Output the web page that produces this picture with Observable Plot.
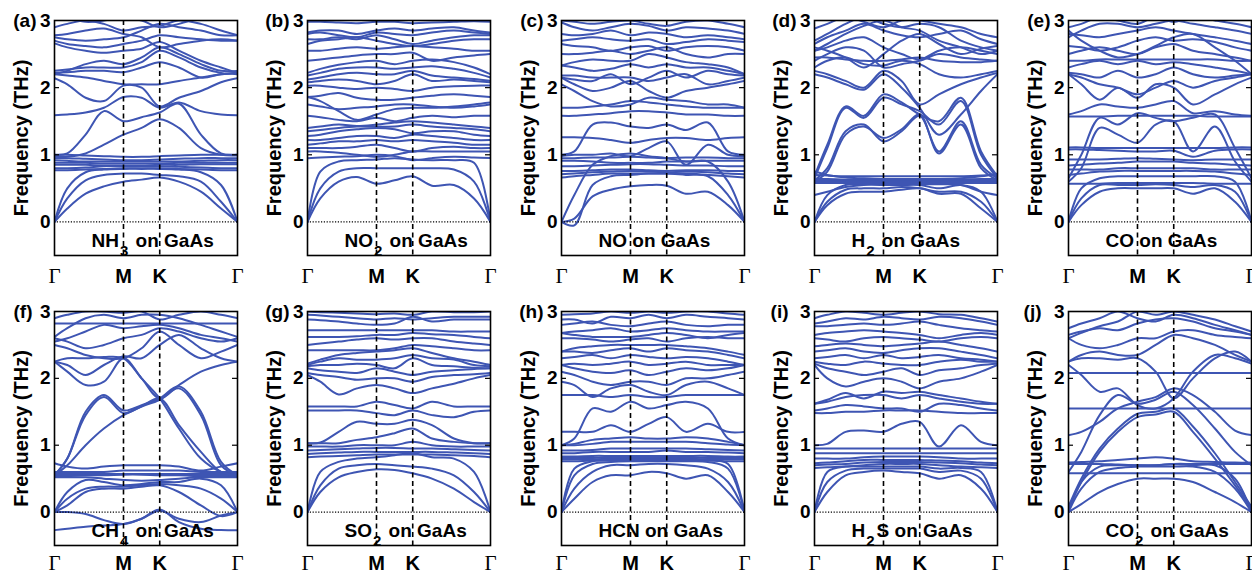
<!DOCTYPE html>
<html><head><meta charset="utf-8">
<script src="https://cdn.jsdelivr.net/npm/d3@7"></script>
<script src="https://cdn.jsdelivr.net/npm/@observablehq/plot@0.6"></script>
<style>
html,body{margin:0;padding:0;background:#fff;}
#wrap{position:relative;width:1252px;height:575px;overflow:hidden;background:#fff;}
</style></head><body><div id="wrap"></div>
<script>
// sample positions along the Γ–M–K–Γ path (fraction of total path)
const kpos = [0, 0.07, 0.17, 0.27, 0.377, 0.476, 0.575, 0.68, 0.8, 0.91, 1];
const symTicks = [0, 0.377, 0.575, 1];
const symLabels = ["Γ", "M", "K", "Γ"];
const freqTicks = [0, 1, 2, 3];
const panelLetters = ["(a)", "(b)", "(c)", "(d)", "(e)", "(f)", "(g)", "(h)", "(i)", "(j)"];
const gasLabels = ["NH3 on GaAs", "NO2 on GaAs", "NO on GaAs", "H2 on GaAs", "CO on GaAs",
                   "CH4 on GaAs", "SO2 on GaAs", "HCN on GaAs", "H2S on GaAs", "CO2 on GaAs"];

const nh3Bands = [
[0,0.2,0.42,0.53,0.6,0.63,0.66,0.6,0.45,0.2,0],
[0,0.35,0.62,0.7,0.72,0.72,0.7,0.68,0.6,0.3,0],
[0,0.5,0.74,0.78,0.79,0.79,0.79,0.78,0.74,0.55,0],
[1.0,1.0,0.99,0.98,0.97,0.97,0.98,0.99,1.0,1.0,1.0],
[0.95,0.95,0.94,0.93,0.92,0.92,0.93,0.94,0.95,0.95,0.95],
[0.92,0.91,0.9,0.9,0.9,0.9,0.9,0.9,0.91,0.92,0.92],
[0.88,0.88,0.88,0.87,0.87,0.87,0.87,0.88,0.88,0.88,0.88],
[0.85,0.85,0.85,0.84,0.84,0.84,0.85,0.85,0.86,0.86,0.86],
[0.8,0.8,0.81,0.83,0.83,0.83,0.83,0.82,0.81,0.8,0.8],
[0.77,0.77,0.78,0.79,0.8,0.8,0.8,0.79,0.78,0.77,0.77],
[0.97,0.97,1.02,1.15,1.3,1.4,1.53,1.4,1.1,1.0,0.99],
[1.0,1.02,1.3,1.65,1.5,1.56,1.63,1.76,1.3,1.02,1.0],
[1.59,1.6,1.63,1.7,1.86,1.85,1.7,1.78,1.65,1.6,1.59],
[2.14,2.05,1.85,1.8,2.03,2.0,1.72,1.85,1.95,2.08,2.14],
[2.2,2.18,2.15,2.1,2.05,2.05,2.05,2.1,2.15,2.2,2.22],
[2.22,2.23,2.25,2.25,2.23,2.3,2.38,2.3,2.15,2.2,2.22],
[2.25,2.27,2.3,2.3,2.3,2.38,2.55,2.45,2.3,2.22,2.2],
[2.2,2.25,2.35,2.4,2.35,2.45,2.6,2.5,2.35,2.25,2.25],
[2.66,2.6,2.55,2.52,2.55,2.58,2.68,2.55,2.4,2.3,2.22],
[2.7,2.65,2.62,2.6,2.65,2.7,2.78,2.75,2.72,2.7,2.7],
[2.78,2.8,2.85,2.88,2.8,2.75,2.6,2.65,2.7,2.72,2.7],
[2.75,2.72,2.7,2.72,2.75,2.85,2.95,2.9,2.85,2.78,2.78],
[2.9,2.95,3.0,2.95,2.85,2.9,2.92,3.0,2.95,2.85,2.78],
[3.1,3.05,2.98,3.0,3.05,3.0,2.9,2.95,3.05,3.1,3.1]
];

const no2Bands = [
[0,0.35,0.6,0.67,0.57,0.62,0.68,0.54,0.55,0.35,0],
[0,0.5,0.75,0.8,0.8,0.8,0.8,0.8,0.78,0.6,0],
[0,0.75,0.9,0.92,0.93,0.95,0.93,0.92,0.92,0.88,0],
[0.95,0.96,0.97,0.98,1.0,0.98,0.92,0.95,0.97,0.96,0.95],
[1.05,1.05,1.03,1.0,0.97,1.0,1.05,1.05,1.05,1.05,1.05],
[1.1,1.1,1.1,1.12,1.15,1.1,1.05,1.1,1.12,1.1,1.1],
[1.15,1.17,1.2,1.2,1.22,1.2,1.22,1.2,1.18,1.15,1.15],
[1.22,1.22,1.25,1.28,1.28,1.25,1.3,1.28,1.25,1.22,1.22],
[1.28,1.3,1.35,1.38,1.4,1.38,1.32,1.35,1.35,1.3,1.28],
[1.35,1.37,1.4,1.42,1.42,1.42,1.45,1.42,1.4,1.38,1.35],
[1.4,1.42,1.45,1.43,1.45,1.48,1.5,1.48,1.45,1.42,1.4],
[1.58,1.56,1.52,1.5,1.55,1.5,1.55,1.58,1.56,1.58,1.58],
[1.86,1.8,1.65,1.52,1.6,1.68,1.7,1.7,1.72,1.75,1.78],
[1.75,1.72,1.68,1.7,1.72,1.75,1.75,1.72,1.7,1.72,1.75],
[1.86,1.88,1.92,1.85,1.82,1.82,1.85,1.88,1.9,1.88,1.86],
[2.03,2.03,2.0,1.98,2.0,1.98,1.95,2.0,2.02,2.03,2.03],
[2.08,2.1,2.12,2.1,2.05,2.1,2.2,2.1,2.12,2.1,2.08],
[2.12,2.15,2.2,2.22,2.2,2.2,2.25,2.18,2.15,2.13,2.1],
[2.18,2.22,2.28,2.3,2.3,2.28,2.3,2.32,2.28,2.22,2.15],
[2.22,2.28,2.34,2.38,2.4,2.35,2.4,2.42,2.38,2.3,2.2],
[2.4,2.42,2.45,2.48,2.5,2.5,2.52,2.4,2.45,2.48,2.5],
[2.55,2.55,2.58,2.6,2.58,2.6,2.62,2.6,2.58,2.55,2.55],
[2.65,2.7,2.72,2.75,2.7,2.65,2.62,2.65,2.7,2.72,2.72],
[2.72,2.72,2.75,2.72,2.78,2.72,2.65,2.7,2.75,2.78,2.78],
[2.8,2.82,2.78,2.75,2.82,2.8,2.78,2.82,2.85,2.82,2.8],
[2.82,2.85,2.85,2.8,2.85,2.88,2.85,2.88,2.9,2.85,2.82],
[2.98,2.98,2.97,2.96,2.98,2.98,2.96,2.97,2.98,2.99,2.98]
];

const noBands = [
[0,0.05,0.38,0.48,0.53,0.55,0.54,0.42,0.45,0.25,0],
[0,-0.05,0.55,0.68,0.7,0.72,0.72,0.7,0.68,0.4,0],
[0,0.4,0.85,0.98,1.02,0.98,0.95,0.9,0.9,0.6,0],
[0.66,0.68,0.7,0.72,0.72,0.72,0.72,0.72,0.7,0.68,0.66],
[0.71,0.72,0.74,0.75,0.76,0.75,0.74,0.75,0.74,0.72,0.71],
[0.76,0.76,0.77,0.78,0.78,0.77,0.76,0.77,0.77,0.76,0.76],
[0.83,0.83,0.84,0.85,0.86,0.86,0.85,0.84,0.84,0.83,0.83],
[0.91,0.91,0.9,0.88,0.88,0.88,0.9,0.9,0.91,0.91,0.91],
[0.95,0.95,0.96,0.96,0.97,0.96,0.95,0.96,0.96,0.95,0.95],
[0.98,1.0,1.0,1.02,0.98,1.1,1.2,0.85,1.15,1.0,0.98],
[1.26,1.26,1.25,1.22,1.18,1.22,1.25,1.25,1.22,1.25,1.26],
[1.0,1.05,1.45,1.48,1.42,1.4,1.45,1.37,1.48,1.05,1.0],
[1.58,1.58,1.6,1.62,1.65,1.65,1.63,1.6,1.6,1.58,1.58],
[1.7,1.7,1.72,1.75,1.8,1.78,1.75,1.72,1.7,1.7,1.7],
[2.05,1.95,1.8,1.72,1.75,1.85,1.82,1.8,1.75,1.75,1.7],
[2.15,2.05,1.95,2.0,2.1,1.95,1.85,1.95,2.0,2.05,2.1],
[2.18,2.18,2.15,2.15,2.15,2.1,2.15,2.2,2.05,2.1,2.15],
[2.15,2.12,2.1,2.2,2.05,2.15,2.25,2.15,2.25,2.2,2.18],
[2.33,2.3,2.25,2.28,2.35,2.3,2.35,2.3,2.3,2.25,2.2],
[2.33,2.38,2.42,2.4,2.4,2.5,2.45,2.38,2.35,2.3,2.2],
[2.5,2.5,2.52,2.55,2.5,2.55,2.6,2.5,2.45,2.5,2.5],
[2.65,2.62,2.6,2.55,2.6,2.62,2.55,2.6,2.62,2.6,2.55],
[2.7,2.72,2.75,2.72,2.7,2.72,2.65,2.68,2.72,2.7,2.68],
[2.8,2.78,2.8,2.85,2.78,2.82,2.8,2.75,2.78,2.75,2.72],
[2.97,2.9,2.85,2.9,2.95,2.92,2.85,2.9,2.88,2.85,2.8],
[3.0,2.98,2.95,2.98,3.0,2.95,2.92,2.98,3.0,2.95,2.9]
];

const h2Bands = [
[0,0.3,0.48,0.5,0.5,0.52,0.5,0.45,0.45,0.3,0],
[0,0.25,0.42,0.45,0.45,0.48,0.5,0.42,0.42,0.2,0],
[0,0.4,0.55,0.56,0.55,0.55,0.55,0.5,0.55,0.45,0],
[0.4,0.45,0.52,0.55,0.56,0.56,0.56,0.56,0.55,0.45,0.4],
[0.58,0.58,0.58,0.58,0.58,0.58,0.58,0.58,0.58,0.58,0.58],
[0.61,0.61,0.61,0.61,0.61,0.61,0.61,0.61,0.61,0.61,0.61],
[0.64,0.64,0.63,0.63,0.63,0.63,0.63,0.63,0.63,0.64,0.64],
[0.7,0.69,0.68,0.68,0.68,0.68,0.68,0.68,0.68,0.69,0.7],
[0.75,0.7,0.66,0.65,0.64,0.64,0.64,0.64,0.65,0.68,0.72],
[0.6,0.75,1.3,1.42,1.25,1.38,1.6,1.02,1.45,0.8,0.62],
[0.62,0.8,1.35,1.45,1.2,1.35,1.58,1.05,1.5,0.85,0.65],
[0.65,1.1,1.7,1.55,1.85,1.75,1.65,1.45,1.8,1.0,0.65],
[0.68,1.15,1.72,1.58,1.9,1.78,1.6,1.5,1.85,1.05,0.68],
[2.2,2.15,2.05,1.97,2.2,2.0,1.7,1.3,1.6,1.95,2.2],
[2.25,2.2,2.1,2.0,2.25,2.1,1.75,1.9,2.05,2.15,2.22],
[2.3,2.4,2.45,2.35,2.33,2.4,2.35,2.2,2.15,2.2,2.25],
[2.45,2.45,2.42,2.4,2.4,2.42,2.45,2.4,2.38,2.38,2.4],
[2.4,2.5,2.6,2.55,2.3,2.35,2.4,2.5,2.45,2.42,2.4],
[2.55,2.6,2.7,2.75,2.6,2.5,2.42,2.55,2.6,2.55,2.5],
[2.6,2.55,2.45,2.3,2.5,2.7,2.8,2.65,2.5,2.58,2.62],
[2.65,2.75,2.85,2.95,2.85,2.78,2.75,2.8,2.85,2.72,2.65],
[2.55,2.65,2.8,2.92,3.0,2.9,2.85,2.7,2.6,2.5,2.55],
[2.7,2.8,2.95,3.05,2.95,2.9,2.95,2.9,2.7,2.6,2.55],
[2.88,2.95,3.05,2.98,2.9,3.0,3.0,2.95,2.9,2.8,2.75]
];

const coBands = [
[0,0.25,0.45,0.5,0.5,0.5,0.5,0.42,0.5,0.3,0],
[0,0.35,0.55,0.55,0.55,0.56,0.55,0.52,0.55,0.45,0],
[0,0.5,0.65,0.68,0.68,0.68,0.68,0.68,0.68,0.6,0],
[0.57,0.57,0.57,0.58,0.58,0.58,0.58,0.58,0.57,0.57,0.57],
[0.7,0.72,0.75,0.76,0.76,0.76,0.76,0.76,0.75,0.72,0.7],
[0.78,0.78,0.78,0.8,0.8,0.8,0.8,0.8,0.78,0.78,0.78],
[0.84,0.85,0.87,0.88,0.9,0.9,0.9,0.88,0.87,0.85,0.84],
[0.93,0.93,0.93,0.94,0.95,0.94,0.93,0.92,0.93,0.93,0.93],
[1.08,1.08,1.07,1.06,1.05,1.05,1.06,0.97,1.06,1.08,1.08],
[1.11,1.11,1.1,1.1,1.1,1.1,1.1,1.1,1.1,1.11,1.11],
[0.6,0.8,1.4,1.3,1.18,1.45,1.5,1.05,1.42,0.9,0.6],
[0.65,1.0,1.55,1.45,1.62,1.55,1.5,1.55,1.6,1.1,0.65],
[1.57,1.57,1.57,1.58,1.58,1.58,1.58,1.58,1.57,1.57,1.57],
[1.6,1.65,1.75,1.72,1.7,1.75,1.8,1.62,1.65,1.6,1.58],
[2.2,2.05,1.82,2.0,1.85,2.05,2.0,1.75,1.9,2.05,2.15],
[2.2,2.15,2.05,2.0,1.9,2.0,2.1,2.0,2.1,2.15,2.2],
[2.22,2.2,2.15,2.25,2.15,2.2,2.3,2.2,2.15,2.18,2.2],
[2.3,2.35,2.4,2.35,2.4,2.35,2.38,2.35,2.3,2.25,2.2],
[2.4,2.4,2.42,2.42,2.42,2.42,2.42,2.42,2.42,2.4,2.4],
[2.5,2.55,2.6,2.55,2.5,2.6,2.65,2.55,2.5,2.45,2.4],
[2.62,2.6,2.55,2.6,2.7,2.75,2.7,2.72,2.68,2.6,2.55],
[2.8,2.78,2.75,2.8,2.85,2.9,2.85,2.8,2.75,2.7,2.65],
[2.75,2.85,2.95,2.95,2.9,2.95,3.0,2.95,2.9,2.85,2.8],
[2.9,2.95,3.05,3.0,2.95,3.05,2.98,3.05,3.0,2.95,2.9],
[2.85,2.7,2.55,2.45,2.5,2.62,2.75,2.8,2.6,2.4,2.2]
];

const ch4Bands = [
[-0.27,-0.25,-0.22,-0.2,-0.18,-0.1,0.04,-0.15,-0.25,-0.27,-0.27],
[0,0.1,0.3,0.35,0.35,0.38,0.4,0.3,0.1,-0.06,0],
[0,0.0,-0.03,-0.12,-0.18,-0.1,0.02,-0.1,-0.15,-0.05,0],
[0.73,0.68,0.65,0.68,0.7,0.7,0.7,0.68,0.62,0.68,0.73],
[0.6,0.6,0.6,0.6,0.62,0.62,0.62,0.62,0.6,0.6,0.6],
[0.57,0.57,0.57,0.57,0.57,0.57,0.57,0.57,0.57,0.57,0.57],
[0.54,0.54,0.55,0.55,0.56,0.56,0.55,0.55,0.54,0.54,0.54],
[0.52,0.52,0.52,0.5,0.48,0.47,0.48,0.5,0.52,0.52,0.52],
[0,0.3,0.48,0.45,0.4,0.42,0.45,0.45,0.5,0.4,0],
[0,0.2,0.35,0.38,0.38,0.4,0.42,0.4,0.35,0.2,0],
[0.55,0.8,1.5,1.75,1.52,1.6,1.7,1.88,1.5,0.75,0.55],
[0.55,0.8,1.45,1.72,1.48,1.58,1.68,1.85,1.45,0.7,0.55],
[0.55,0.7,1.0,1.25,1.45,1.58,1.7,1.3,0.9,0.6,0.55],
[2.25,2.1,1.9,1.95,2.3,2.0,1.7,1.25,0.8,0.6,0.55],
[2.25,2.2,2.05,2.2,2.33,2.3,2.5,2.65,2.45,2.3,2.25],
[2.25,2.3,2.3,2.32,2.3,2.0,1.7,1.9,2.1,2.2,2.25],
[2.5,2.45,2.35,2.3,2.3,2.45,2.7,2.5,2.3,2.4,2.5],
[2.6,2.55,2.45,2.5,2.6,2.65,2.75,2.7,2.6,2.55,2.6],
[2.55,2.6,2.7,2.8,2.75,2.78,2.8,2.75,2.65,2.6,2.55],
[2.82,2.82,2.82,2.82,2.82,2.82,2.82,2.82,2.82,2.82,2.82],
[2.62,2.75,2.9,2.95,2.9,2.95,2.95,2.9,2.8,2.7,2.62],
[2.9,2.95,3.0,3.0,2.98,3.0,2.88,2.95,3.0,2.95,2.9]
];

const so2Bands = [
[0,0.3,0.52,0.6,0.64,0.63,0.58,0.5,0.35,0.15,0],
[0,0.4,0.65,0.7,0.72,0.7,0.68,0.65,0.55,0.3,0],
[0,0.6,0.75,0.8,0.82,0.85,0.88,0.82,0.8,0.6,0],
[0.82,0.83,0.84,0.85,0.86,0.86,0.86,0.86,0.85,0.84,0.82],
[0.87,0.88,0.89,0.9,0.9,0.9,0.9,0.9,0.89,0.88,0.87],
[0.92,0.93,0.94,0.95,0.96,0.96,0.95,0.95,0.94,0.93,0.92],
[0.98,0.98,0.98,1.0,1.0,1.0,1.05,1.0,0.98,0.98,0.98],
[1.03,1.03,1.03,1.08,1.12,1.18,1.25,1.1,1.05,1.03,1.03],
[1.03,1.04,1.2,1.35,1.32,1.32,1.38,1.3,1.1,1.03,1.03],
[1.52,1.52,1.52,1.52,1.48,1.45,1.52,1.45,1.42,1.5,1.52],
[1.58,1.58,1.58,1.58,1.65,1.6,1.55,1.65,1.58,1.58,1.58],
[2.05,1.95,1.76,1.85,1.9,1.85,1.78,1.85,1.92,2.0,2.05],
[2.08,2.05,2.02,1.98,2.0,2.0,1.95,2.02,2.05,2.06,2.08],
[2.15,2.12,2.1,2.08,2.15,2.1,2.05,2.1,2.12,2.14,2.15],
[2.18,2.2,2.2,2.22,2.2,2.15,2.3,2.2,2.18,2.16,2.15],
[2.2,2.25,2.3,2.28,2.28,2.3,2.35,2.3,2.28,2.2,2.18],
[2.22,2.28,2.35,2.38,2.4,2.42,2.45,2.38,2.3,2.25,2.2],
[2.42,2.42,2.42,2.42,2.42,2.45,2.5,2.48,2.45,2.42,2.42],
[2.5,2.52,2.55,2.58,2.6,2.58,2.6,2.6,2.55,2.52,2.5],
[2.62,2.62,2.62,2.63,2.65,2.65,2.68,2.66,2.65,2.62,2.6],
[2.72,2.72,2.72,2.72,2.72,2.72,2.72,2.72,2.7,2.7,2.7],
[2.88,2.87,2.85,2.82,2.8,2.82,2.92,2.85,2.88,2.88,2.88],
[2.95,2.94,2.92,2.9,2.88,2.9,2.88,2.9,2.92,2.92,2.92],
[3.0,2.99,2.98,2.97,2.96,2.97,2.95,3.0,2.99,2.99,3.0]
];

const hcnBands = [
[0,0.2,0.45,0.55,0.55,0.6,0.58,0.5,0.55,0.3,0],
[0,0.35,0.6,0.7,0.7,0.72,0.72,0.7,0.65,0.45,0],
[0,0.55,0.72,0.75,0.76,0.76,0.76,0.76,0.75,0.65,0],
[0,0.65,0.76,0.78,0.78,0.78,0.78,0.78,0.78,0.72,0],
[0.76,0.76,0.77,0.77,0.78,0.78,0.78,0.77,0.77,0.76,0.76],
[0.79,0.79,0.79,0.8,0.8,0.8,0.8,0.8,0.79,0.79,0.79],
[0.81,0.81,0.81,0.82,0.82,0.82,0.82,0.82,0.81,0.81,0.81],
[0.83,0.83,0.84,0.84,0.84,0.84,0.84,0.84,0.84,0.83,0.83],
[0.88,0.88,0.9,0.9,0.9,0.9,0.92,0.9,0.9,0.89,0.88],
[0.92,0.92,0.93,0.95,0.95,0.95,0.95,0.95,0.94,0.93,0.92],
[1.0,1.0,1.02,1.05,1.05,1.05,1.05,1.05,1.03,1.01,1.0],
[1.0,1.02,1.08,1.1,1.12,1.1,1.1,1.12,1.1,1.05,1.0],
[1.2,1.2,1.2,1.3,1.2,1.32,1.42,1.2,1.32,1.2,1.2],
[1.0,1.1,1.55,1.5,1.65,1.55,1.6,1.65,1.55,1.1,1.0],
[1.75,1.75,1.75,1.72,1.75,1.72,1.72,1.75,1.75,1.75,1.75],
[1.95,1.9,1.72,1.85,1.9,1.8,1.75,1.9,1.95,1.85,1.75],
[2.1,2.05,1.95,1.9,1.95,1.95,1.9,2.0,2.0,2.05,2.1],
[2.2,2.15,2.1,2.08,2.12,2.05,2.1,2.15,2.12,2.15,2.2],
[2.2,2.22,2.2,2.22,2.25,2.2,2.22,2.25,2.2,2.2,2.2],
[2.3,2.32,2.35,2.3,2.35,2.32,2.3,2.32,2.3,2.25,2.2],
[2.4,2.4,2.38,2.42,2.45,2.4,2.45,2.42,2.4,2.35,2.3],
[2.4,2.45,2.48,2.5,2.5,2.5,2.5,2.48,2.45,2.4,2.35],
[2.6,2.6,2.58,2.55,2.58,2.6,2.55,2.6,2.62,2.6,2.6],
[2.68,2.65,2.62,2.62,2.62,2.65,2.68,2.65,2.6,2.65,2.68],
[2.68,2.7,2.72,2.75,2.7,2.72,2.75,2.72,2.7,2.7,2.7],
[2.8,2.82,2.85,2.8,2.78,2.82,2.85,2.8,2.78,2.8,2.8],
[2.88,2.88,2.82,2.92,2.9,2.95,2.9,2.95,2.92,2.9,2.88],
[2.95,2.96,2.97,3.0,2.98,3.0,2.98,3.0,3.0,2.97,2.95]
];

const h2sBands = [
[0,0.3,0.55,0.6,0.62,0.6,0.58,0.5,0.55,0.35,0],
[0,0.45,0.62,0.65,0.65,0.65,0.65,0.6,0.62,0.5,0],
[0,0.6,0.68,0.68,0.68,0.68,0.68,0.65,0.66,0.6,0],
[0.66,0.67,0.68,0.7,0.72,0.72,0.72,0.7,0.68,0.67,0.66],
[0.7,0.71,0.72,0.74,0.75,0.75,0.75,0.74,0.73,0.71,0.7],
[0.73,0.74,0.76,0.78,0.78,0.78,0.78,0.77,0.76,0.74,0.73],
[0.8,0.8,0.8,0.82,0.83,0.83,0.83,0.82,0.8,0.8,0.8],
[0.88,0.88,0.88,0.88,0.88,0.88,0.88,0.88,0.88,0.88,0.88],
[0.95,0.95,0.95,0.95,0.95,0.95,0.95,0.95,0.95,0.95,0.95],
[1.0,1.02,1.2,1.22,1.2,1.32,1.35,0.98,1.3,1.05,1.0],
[1.48,1.48,1.5,1.5,1.52,1.52,1.52,1.5,1.48,1.48,1.48],
[1.52,1.55,1.6,1.58,1.55,1.55,1.5,1.62,1.6,1.55,1.52],
[1.62,1.65,1.72,1.75,1.75,1.7,1.75,1.7,1.65,1.62,1.62],
[1.62,1.68,1.78,1.7,1.8,1.78,1.8,1.75,1.7,1.65,1.62],
[2.2,2.0,1.88,1.95,2.0,1.95,1.85,1.95,2.0,2.1,2.2],
[2.22,2.15,2.1,2.05,2.1,2.15,2.05,2.12,2.15,2.2,2.22],
[2.25,2.22,2.2,2.25,2.22,2.2,2.2,2.25,2.28,2.25,2.25],
[2.3,2.32,2.35,2.3,2.35,2.3,2.32,2.35,2.3,2.28,2.25],
[2.4,2.42,2.45,2.4,2.38,2.42,2.45,2.45,2.4,2.35,2.3],
[2.48,2.5,2.52,2.5,2.48,2.5,2.52,2.55,2.5,2.45,2.4],
[2.6,2.58,2.55,2.6,2.62,2.6,2.58,2.55,2.6,2.62,2.6],
[2.65,2.68,2.7,2.72,2.7,2.68,2.65,2.6,2.65,2.68,2.65],
[2.78,2.78,2.8,2.82,2.8,2.82,2.85,2.8,2.75,2.72,2.7],
[2.82,2.85,2.9,2.88,2.92,2.9,2.88,2.92,2.9,2.85,2.8],
[2.9,2.95,3.0,2.98,2.95,2.98,3.0,2.96,2.95,2.9,2.85]
];

const co2Bands = [
[0,0.12,0.3,0.42,0.5,0.5,0.5,0.45,0.3,0.15,0],
[0,0.35,0.6,0.66,0.68,0.68,0.68,0.68,0.6,0.35,0],
[0,0.45,0.68,0.7,0.7,0.7,0.72,0.7,0.7,0.5,0],
[0.58,0.58,0.58,0.58,0.58,0.58,0.58,0.58,0.58,0.58,0.58],
[0.72,0.72,0.72,0.71,0.7,0.7,0.72,0.72,0.72,0.72,0.72],
[0.74,0.75,0.76,0.78,0.8,0.82,0.8,0.76,0.75,0.74,0.74],
[0.05,0.45,0.9,1.2,1.42,1.46,1.5,1.2,0.8,0.4,0.05],
[0.08,0.5,0.95,1.25,1.47,1.5,1.55,1.28,0.88,0.45,0.08],
[1.15,1.2,1.35,1.55,1.65,1.72,1.85,1.75,1.5,1.22,1.15],
[0.6,0.9,1.45,1.75,1.62,1.68,1.8,1.6,1.25,0.9,0.7],
[1.55,1.55,1.55,1.55,1.55,1.55,1.55,1.55,1.55,1.55,1.55],
[2.2,2.05,1.8,1.85,1.6,1.55,1.7,2.1,2.35,2.3,2.22],
[2.08,2.08,2.08,2.08,2.08,2.08,2.08,2.08,2.08,2.08,2.08],
[2.25,2.3,2.3,2.28,2.3,2.1,1.7,2.0,2.3,2.4,2.25],
[2.25,2.35,2.4,2.35,2.35,2.5,2.65,2.6,2.5,2.35,2.25],
[2.6,2.5,2.45,2.5,2.6,2.6,2.7,2.72,2.65,2.62,2.6],
[2.65,2.7,2.75,2.72,2.82,2.88,2.9,2.85,2.75,2.7,2.65],
[2.75,2.82,2.9,3.0,2.9,2.85,2.95,2.9,2.8,2.72,2.65],
[2.6,2.68,2.78,2.85,3.0,2.95,3.0,2.95,2.88,2.78,2.7]
];

const allBands = [nh3Bands, no2Bands, noBands, h2Bands, coBands, ch4Bands, so2Bands, hcnBands, h2sBands, co2Bands];

// layout (pixels)
const svgLefts = [0, 253, 507, 760, 1014];
const letterDx = [-18, -18, -18, -18, -18, -22, -18, -18, -26, -27];
const lineColor = "#3e55b3";
const sans = "'Liberation Sans', Arial, Helvetica, sans-serif";
const serif = "'Liberation Serif', 'Times New Roman', serif";

const wrap = document.getElementById("wrap");
const NS = "http://www.w3.org/2000/svg";

allBands.forEach((bands, i) => {
  const row = i < 5 ? 0 : 1;
  const col = i % 5;
  const rows = [];
  bands.forEach((b, j) => b.forEach((f, k) => rows.push({band: j, q: kpos[k], f})));
  const h = row === 0 ? 289 : 287;
  const pad = row === 0 ? 13 : 10;
  const svg = Plot.plot({
    width: 251, height: h,
    marginLeft: 54, marginRight: 14,
    marginTop: row === 0 ? 20 : 23, marginBottom: row === 0 ? 34 : 30,
    x: {domain: [0, 1], axis: null},
    y: {domain: [-0.5, 3], axis: null},
    style: {fontFamily: sans, background: "transparent", overflow: "visible", color: "black"},
    marks: [
      Plot.line(rows, {x: "q", y: "f", z: "band", stroke: lineColor, strokeWidth: 2, curve: "catmull-rom", clip: true}),
      Plot.ruleY([0], {stroke: "black", strokeWidth: 1.2, strokeDasharray: "1.2,1.6"}),
      Plot.ruleX([symTicks[1], symTicks[2]], {stroke: "black", strokeWidth: 1.6, strokeDasharray: "5,3.5"}),
      Plot.tickY([1, 2], {insetRight: 178, stroke: "black", strokeWidth: 1.2}),
      Plot.tickY([1, 2], {insetLeft: 178, stroke: "black", strokeWidth: 1.2}),
      Plot.frame({stroke: "black", strokeWidth: 1.6}),
      Plot.axisY(freqTicks, {anchor: "left", tickSize: 0, tickPadding: 4, fontSize: 19, fontWeight: "bold", label: null, tickFormat: d => String(d)}),
      Plot.axisX([symTicks[0], symTicks[3]], {anchor: "bottom", tickSize: 0, tickPadding: pad, fontSize: 21, fontFamily: serif, fontWeight: "normal", label: null, tickFormat: d => symLabels[symTicks.indexOf(d)]}),
      Plot.axisX([symTicks[1], symTicks[2]], {anchor: "bottom", tickSize: 0, tickPadding: pad, fontSize: 20, fontWeight: "bold", label: null, tickFormat: d => symLabels[symTicks.indexOf(d)]}),
      Plot.text([panelLetters[i]], {frameAnchor: "top-left", textAnchor: "end", dx: letterDx[i], lineAnchor: "middle", fontSize: 19, fontWeight: "bold", fill: "black"}),
      Plot.text(["Frequency (THz)"], {frameAnchor: "left", textAnchor: "middle", rotate: -90, dx: -33, lineAnchor: "middle", fontSize: 20, fontWeight: "bold", fill: "black"}),
      Plot.text([gasLabels[i]], {frameAnchor: "bottom-left", textAnchor: "start", dx: 37, dy: -9, lineAnchor: "bottom", fontSize: 19, fontWeight: "bold", fill: "black", ariaLabel: "gas-label"})
    ]
  });
  // chemical-formula subscripts
  const texts = Array.from(svg.querySelectorAll("text")).filter(el => el.textContent === gasLabels[i]);
  texts.forEach(t => {
    const s = t.textContent;
    const parts = s.match(/\d+|\D+/g);
    while (t.firstChild) t.removeChild(t.firstChild);
    let prevSub = false;
    parts.forEach(p => {
      const ts = document.createElementNS(NS, "tspan");
      ts.textContent = p;
      if (/^\d+$/.test(p)) { ts.setAttribute("dy", "9"); ts.setAttribute("dx", "1"); ts.setAttribute("font-size", "15"); prevSub = true; }
      else if (prevSub) { ts.setAttribute("dy", "-9"); ts.setAttribute("dx", "2"); prevSub = false; }
      t.appendChild(ts);
    });
  });
  svg.style.position = "absolute";
  svg.style.left = svgLefts[col] + "px";
  svg.style.top = (row === 0 ? 0 : 288) + "px";
  svg.style.maxWidth = "none";
  wrap.appendChild(svg);
});
</script>
</body></html>
